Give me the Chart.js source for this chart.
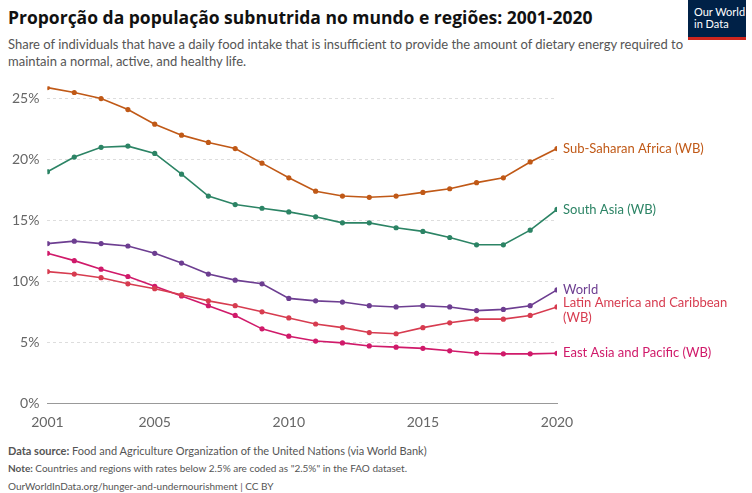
<!DOCTYPE html>
<html><head><meta charset="utf-8">
<script src="https://cdn.jsdelivr.net/npm/chart.js@4/dist/chart.umd.min.js"></script>
<style>
body{margin:0;width:752px;height:493px;font-family:Lato,"Open Sans",sans-serif;background:#fff;position:relative;overflow:hidden}
#title{position:absolute;left:8px;top:5px;font-size:17.5px;font-weight:bold;color:#111;font-family:"Open Sans",sans-serif}
#sub{position:absolute;left:8px;top:36px;width:690px;font-size:13px;color:#555;line-height:17px}
#logo{position:absolute;right:6px;top:0;width:58px;height:40px;background:#002147;color:#fff;font-size:11px;line-height:12px;padding:6px 0 0 6px;box-sizing:border-box;border-bottom:3px solid #ce261e}
#wrap{position:absolute;left:0;top:70px;width:752px;height:364px}
#foot{position:absolute;left:8px;top:442px;font-size:11px;color:#555;line-height:17px}
</style></head><body>
<div id="title">Proporção da população subnutrida no mundo e regiões: 2001-2020</div>
<div id="sub">Share of individuals that have a daily food intake that is insufficient to provide the amount of dietary energy required to maintain a normal, active, and healthy life.</div>
<div id="logo">Our World<br>in Data</div>
<div id="wrap"><canvas id="c"></canvas></div>
<div id="foot"><b>Data source:</b> Food and Agriculture Organization of the United Nations (via World Bank)<br><span style="font-size:10px"><b>Note:</b> Countries and regions with rates below 2.5% are coded as "2.5%" in the FAO dataset.</span><br><span style="font-size:10px">OurWorldInData.org/hunger-and-undernourishment | CC BY</span></div>
<script>
const years = [2001,2002,2003,2004,2005,2006,2007,2008,2009,2010,2011,2012,2013,2014,2015,2016,2017,2018,2019,2020];
const subSaharan = [25.9,25.5,25.0,24.1,22.9,22.0,21.4,20.9,19.7,18.5,17.4,17.0,16.9,17.0,17.3,17.6,18.1,18.5,19.8,20.9];
const southAsia = [19.0,20.2,21.0,21.1,20.5,18.8,17.0,16.3,16.0,15.7,15.3,14.8,14.8,14.4,14.1,13.6,13.0,13.0,14.2,15.9];
const world = [13.1,13.3,13.1,12.9,12.3,11.5,10.6,10.1,9.8,8.6,8.4,8.3,8.0,7.9,8.0,7.9,7.6,7.7,8.0,9.3];
const latinAmerica = [10.8,10.6,10.3,9.8,9.4,8.9,8.4,8.0,7.5,7.0,6.5,6.2,5.8,5.7,6.2,6.6,6.9,6.9,7.2,7.9];
const eastAsia = [12.3,11.7,11.0,10.4,9.6,8.8,8.0,7.2,6.1,5.5,5.1,4.95,4.7,4.6,4.5,4.3,4.1,4.05,4.05,4.1];
const xTicks = [2001,2005,2010,2015,2020];
const yTicks = [0,5,10,15,20,25];

const series = [
  {label:'Sub-Saharan Africa (WB)', data:subSaharan, color:'#c05917'},
  {label:'South Asia (WB)', data:southAsia, color:'#2c8465'},
  {label:'World', data:world, color:'#6d3e91'},
  {label:'Latin America and Caribbean\n(WB)', data:latinAmerica, color:'#d73c50'},
  {label:'East Asia and Pacific (WB)', data:eastAsia, color:'#d01a6a'}
];

const endLabels = {
  id:'endLabels',
  afterDatasetsDraw(chart){
    const ctx = chart.ctx;
    ctx.save();
    ctx.font = '13px Lato, sans-serif';
    ctx.textBaseline = 'middle';
    chart.data.datasets.forEach((ds,i)=>{
      const pts = chart.getDatasetMeta(i).data;
      const p = pts[pts.length-1];
      const lines = ds.label.split('\n');
      let y = p.y - (lines.length>1 ? 4 : 0);
      ctx.fillStyle = ds.borderColor;
      lines.forEach((t,k)=>ctx.fillText(t, p.x+6, y + k*15));
    });
    ctx.restore();
  }
};

new Chart(document.getElementById('c'), {
  type:'line',
  data:{
    datasets: series.map(s=>({
      label:s.label,
      data:years.map((y,i)=>({x:y,y:s.data[i]})),
      borderColor:s.color, backgroundColor:s.color,
      borderWidth:1.6, pointRadius:1.8, tension:0
    }))
  },
  options:{
    responsive:true, maintainAspectRatio:false, animation:false,
    layout:{padding:{right:195,top:12,left:4}},
    plugins:{legend:{display:false},tooltip:{enabled:false}},
    scales:{
      x:{type:'linear',min:2001,max:2020,
        afterBuildTicks:a=>{a.ticks=xTicks.map(v=>({value:v}));},
        grid:{display:false},border:{color:'#999'},
        ticks:{color:'#666',font:{size:14,family:'Lato'},callback:v=>v,maxRotation:0}},
      y:{min:0,max:26,
        afterBuildTicks:a=>{a.ticks=yTicks.map(v=>({value:v}));},
        grid:{color:'#ddd',drawTicks:false},border:{display:false,dash:[3,3]},
        ticks:{color:'#666',font:{size:14,family:'Lato'},callback:v=>v+'%',padding:8}}
    }
  },
  plugins:[endLabels]
});
</script>
</body></html>
